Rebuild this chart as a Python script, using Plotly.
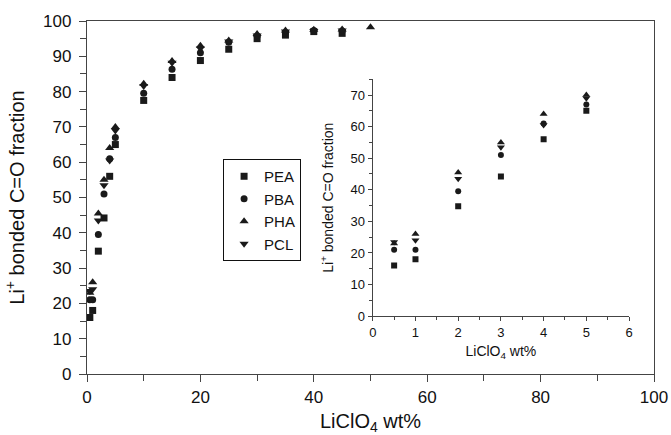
import plotly.graph_objects as go

# ---- data ----
x_wt = [0.5, 1, 2, 3, 4, 5, 10, 15, 20, 25, 30, 35, 40, 45, 50]
pea = [16, 18, 34.8, 44.2, 56, 65, 77.5, 84, 88.8, 92, 95, 96, 97, 96.5, None]
pba = [21, 21, 39.5, 51, 61, 67, 79.5, 86.3, 91, 94, 95.7, 96.7, 97.3, 97.2, None]
pha = [23, 26, 45.5, 55, 64, 70, 82.2, 88.7, 93, 94.5, 96.3, 97.3, 97.5, 97.6, 98.2]
pcl = [23.5, 24, 43.5, 53.5, 60.5, 69, 81.6, 88.2, 92.2, 94.2, 95.9, 97.0, 97.2, 97.3, None]
names = ["PEA", "PBA", "PHA", "PCL"]
symbols = ["square", "circle", "triangle-up", "triangle-down"]
series = [pea, pba, pha, pcl]
inset_n = 6  # points with LiClO4 <= 5 wt%

FONT = "Liberation Sans, Arial, sans-serif"
MK = "#1a1a1a"
sizes = [7, 7, 8, 8]

fig = go.Figure()
for nm, sy, ys, sz in zip(names, symbols, series, sizes):
    fig.add_trace(go.Scatter(x=x_wt, y=ys, mode="markers", name=nm,
                             marker=dict(symbol=sy, size=sz, color=MK),
                             xaxis="x", yaxis="y"))
for nm, sy, ys, sz in zip(names, symbols, series, sizes):
    fig.add_trace(go.Scatter(x=x_wt[:inset_n], y=ys[:inset_n], mode="markers", name=nm,
                             marker=dict(symbol=sy, size=sz - 1, color=MK),
                             xaxis="x2", yaxis="y2", showlegend=False))

axis_common = dict(showgrid=False, zeroline=False, showline=True, linecolor="#444",
                   linewidth=1.3, ticks="outside", tickcolor="#444", tickwidth=1.3,
                   color="#111", automargin=False)

fig.update_layout(
    width=671, height=435,
    margin=dict(l=87, r=17, t=21, b=61),
    paper_bgcolor="white", plot_bgcolor="white",
    font=dict(family=FONT, color="#111"),
    showlegend=True,
    legend=dict(x=0.24, y=0.609, xanchor="left", yanchor="top",
                bordercolor="#111", borderwidth=1, bgcolor="white",
                font=dict(size=15, family=FONT), itemwidth=30,
                tracegroupgap=0),
    xaxis=dict(**axis_common, range=[0, 100], dtick=20, ticklen=7,
               minor=dict(dtick=10, ticks="outside", ticklen=6, tickcolor="#444"),
               mirror=True, tickfont=dict(size=17),
               title=dict(text="LiClO<sub>4</sub> wt%", font=dict(size=20), standoff=18)),
    yaxis=dict(**axis_common, range=[0, 100], dtick=10, ticklen=7,
               minor=dict(dtick=5, ticks="outside", ticklen=6, tickcolor="#444"),
               mirror=True, tickfont=dict(size=17), ticklabelstandoff=4,
               title=dict(text="Li<sup>+</sup> bonded C=O fraction", font=dict(size=20), standoff=13)),
    xaxis2=dict(**axis_common, domain=[0.504, 0.956], anchor="y2", range=[0, 6], dtick=1,
                ticklen=4, minor=dict(dtick=0.5, ticks="outside", ticklen=3, tickcolor="#444"),
                tickfont=dict(size=13),
                title=dict(text="LiClO<sub>4</sub> wt%", font=dict(size=14), standoff=7)),
    yaxis2=dict(**axis_common, domain=[0.164, 0.835], anchor="x2", range=[0, 75], dtick=10,
                ticklen=4, minor=dict(dtick=5, ticks="outside", ticklen=3, tickcolor="#444"),
                tickfont=dict(size=13),
                title=dict(text="Li<sup>+</sup> bonded C=O fraction", font=dict(size=14), standoff=13)),
)

fig.write_html("out.html", config={"displayModeBar": False},
               post_script="document.body.style.margin='0';document.body.style.padding='0';")
